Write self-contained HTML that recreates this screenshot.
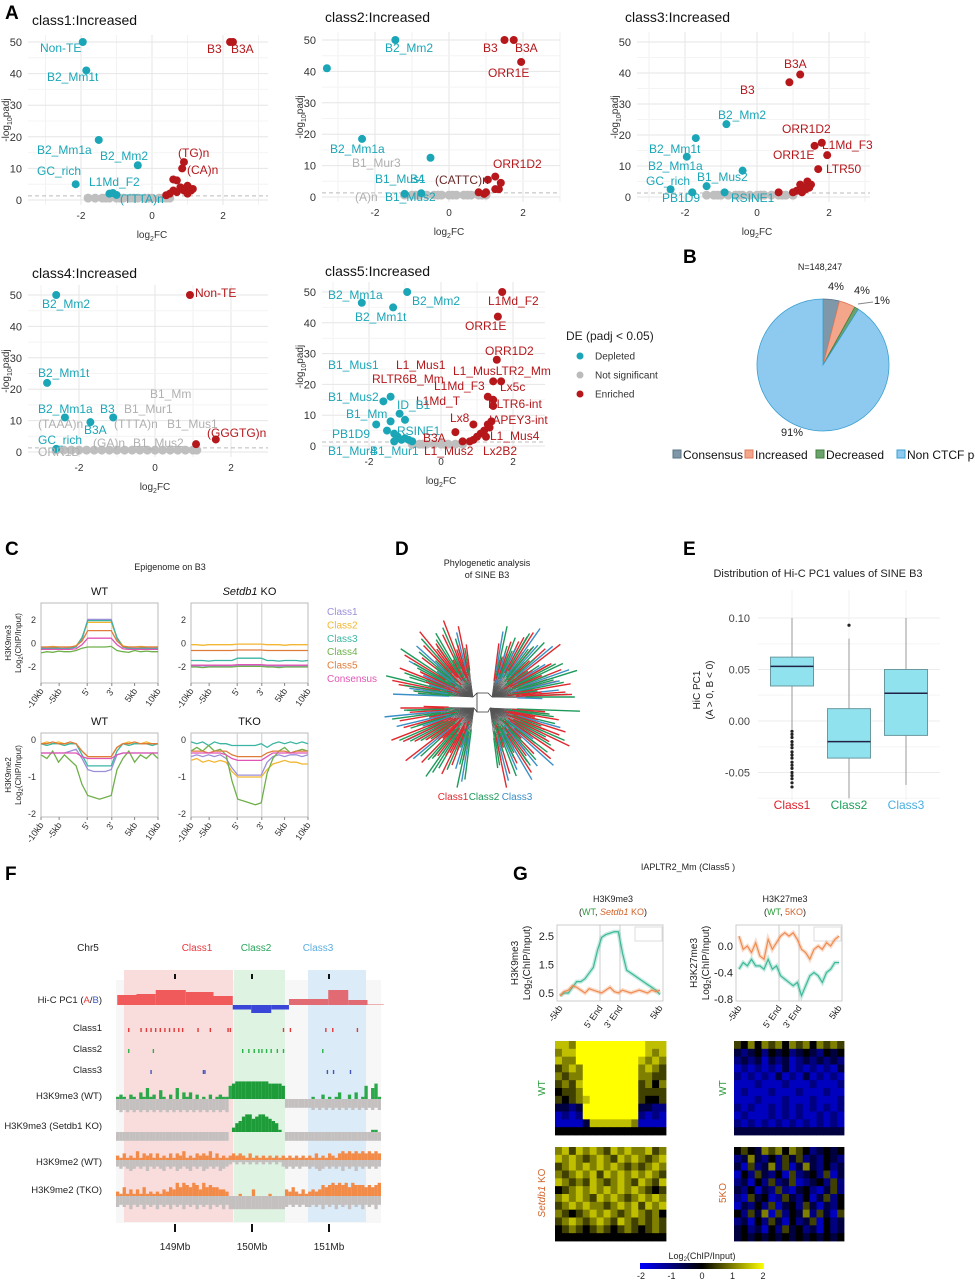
<!DOCTYPE html>
<html><head><meta charset="utf-8">
<style>
html,body{margin:0;padding:0;background:#fff;}
svg{display:block;font-family:"Liberation Sans",sans-serif;}
</style></head>
<body>
<svg id="fig" width="975" height="1280" viewBox="0 0 975 1280" xmlns="http://www.w3.org/2000/svg"></svg>
<script>
// ===== DATA =====
const v1Pts=[[-1.95,50,'d'],[-1.85,41,'d'],[-1.5,19,'d'],[-0.4,11,'d'],[-2.15,5,'d'],[-1.2,2,'d'],[-1.1,2.2,'d'],[-1.0,1.6,'d'],[2.2,50,'e'],[2.28,50,'e'],[0.9,12,'e'],[0.85,10,'e'],[0.6,6.5,'e'],[0.7,6.2,'e'],[0.8,4,'e'],[0.9,3,'e'],[1.0,4.5,'e'],[1.1,3,'e'],[0.6,3,'e'],[0.5,2,'e'],[0.4,1.5,'e'],[0.7,2.5,'e'],[1.0,2,'e'],[1.15,3.5,'e']];
const v1Gray=[-1.8,-1.6,-1.4,-1.2,-1.0,-0.8,-0.6,-0.4,-0.2,0,0.2,0.4,0.5,-1.3,-0.9,-0.5,-0.1,0.3];
const v2Pts=[[-1.45,50,'d'],[-3.3,41,'d'],[-2.35,18.5,'d'],[-0.5,12.5,'d'],[-1.2,1,'d'],[-0.75,1.2,'d'],[1.5,50,'e'],[1.75,50,'e'],[1.95,43,'e'],[1.25,6.5,'e'],[1.05,5.5,'e'],[1.4,4.5,'e'],[1.25,2.5,'e'],[1.35,2.5,'e'],[0.8,1.5,'e'],[0.95,1,'e'],[1.0,1.5,'e']];
const v2Gray=[-1.2,-1.0,-0.8,-0.6,-0.4,-0.2,0,0.2,0.4,0.6,0.8,1.0,-0.9,-0.3,0.1,0.5,0.9];
const v3Pts=[[1.2,39.5,'e'],[0.9,37,'e'],[-0.85,23.5,'d'],[-1.7,19,'d'],[-1.95,13,'d'],[1.8,17.5,'e'],[1.6,16.5,'e'],[1.95,13.5,'e'],[1.7,9,'e'],[-0.4,8.5,'d'],[-1.4,3.5,'d'],[-2.4,2.5,'d'],[-1.8,1.5,'d'],[-0.9,1.5,'d'],[1.2,4,'e'],[1.3,3,'e'],[1.4,5,'e'],[1.5,4,'e'],[1.1,2,'e'],[1.25,1.5,'e'],[1.35,2.5,'e'],[1.0,1.5,'e'],[0.6,1.5,'e'],[1.45,3,'e']];
const v3Gray=[-1.4,-1.2,-1.0,-0.8,-0.6,-0.4,-0.2,0,0.2,0.4,0.6,0.8,1.0,-1.1,-0.5,0.1,0.7];
const v4Pts=[[-2.6,50,'d'],[-2.84,22,'d'],[-2.37,11,'d'],[-1.7,9.5,'d'],[-1.1,11,'d'],[-2.6,1,'d'],[0.92,50,'e'],[1.08,2.5,'e'],[1.6,4,'e']];
const v4Gray=[-2.6,-2.4,-2.2,-2.0,-1.8,-1.6,-1.4,-1.2,-1.0,-0.8,-0.6,-0.4,-0.2,0,0.2,0.4,0.6,0.8,1.0,1.1];
const v5Pts=[[-0.94,50,'d'],[-2.2,46.5,'d'],[-1.33,45,'d'],[-1.4,16,'d'],[-1.6,14.5,'d'],[-1.15,10.5,'d'],[-1.0,8.5,'d'],[-1.8,7,'d'],[-1.4,8,'d'],[-1.3,4,'d'],[-1.2,3,'d'],[-1.1,2,'d'],[-1.0,2.5,'d'],[-0.9,2,'d'],[-1.3,1.5,'d'],[-0.8,1.5,'d'],[-1.5,5,'d'],
[1.7,50,'e'],[1.58,42,'e'],[1.55,28,'e'],[1.45,21,'e'],[1.67,21,'e'],[1.3,16,'e'],[1.45,15,'e'],[1.45,13,'e'],[1.4,8,'e'],[0.9,7,'e'],[0.4,4.5,'e'],[1.3,7,'e'],[1.2,5,'e'],[1.1,4,'e'],[1.0,3,'e'],[0.9,2,'e'],[0.8,1.5,'e'],[1.35,6,'e'],[1.25,3,'e'],[0.6,1.5,'e']];
const v5Gray=[-0.8,-0.6,-0.4,-0.2,0,0.2,0.4,0.6,-0.5,0.1];
const pieLabels=['Consensus','Increased','Decreased','Non CTCF peak'];
const pieValues=[4,4,1,91];
const cClasses=['Class1','Class2','Class3','Class4','Class5','Consensus'];
const k9WT=[
[-0.4,-0.4,-0.4,-0.45,-0.4,-0.35,-0.2,0.3,2.05,2.05,2.05,2.05,2.05,0.4,-0.3,-0.4,-0.4,-0.45,-0.4,-0.4,-0.4],
[-0.3,-0.3,-0.25,-0.3,-0.3,-0.3,-0.2,0.5,1.8,1.8,1.8,1.8,1.8,0.5,-0.2,-0.3,-0.3,-0.25,-0.3,-0.3,-0.3],
[-0.4,-0.45,-0.4,-0.4,-0.45,-0.4,-0.3,0.5,1.95,1.95,1.95,1.95,1.95,0.5,-0.3,-0.4,-0.45,-0.4,-0.4,-0.45,-0.4],
[-0.8,-0.7,-0.75,-0.65,-0.7,-0.7,-0.6,-0.4,-0.3,-0.3,-0.3,-0.3,-0.25,-0.6,-0.7,-0.75,-0.6,-0.7,-0.65,-0.7,-0.7],
[-0.3,-0.3,-0.3,-0.3,-0.3,-0.3,-0.2,0.2,1.1,1.1,1.1,1.1,1.1,0.2,-0.25,-0.3,-0.3,-0.3,-0.3,-0.3,-0.3],
[-0.5,-0.5,-0.5,-0.5,-0.5,-0.5,-0.45,-0.1,0.45,0.45,0.45,0.45,0.45,-0.1,-0.45,-0.5,-0.5,-0.5,-0.5,-0.5,-0.5]];
const k9KO=[
[-1.9,-1.9,-1.9,-1.95,-1.9,-1.9,-1.9,-1.9,-1.85,-1.85,-1.85,-1.85,-1.85,-1.9,-1.9,-1.95,-1.9,-1.9,-1.9,-1.9,-1.9],
[-0.1,-0.1,-0.15,-0.1,-0.1,-0.1,-0.1,-0.1,-0.05,-0.05,-0.05,-0.05,-0.05,-0.1,-0.1,-0.1,-0.15,-0.1,-0.1,-0.1,-0.1],
[-1.45,-1.45,-1.45,-1.5,-1.45,-1.45,-1.45,-1.45,-1.25,-1.25,-1.25,-1.25,-1.25,-1.45,-1.45,-1.5,-1.45,-1.45,-1.45,-1.5,-1.45],
[-2.0,-2.0,-2.05,-2.0,-2.0,-2.0,-2.0,-2.0,-1.95,-1.95,-1.95,-1.95,-1.95,-2.0,-2.0,-2.05,-2.0,-2.0,-2.0,-2.0,-2.0],
[-0.6,-0.6,-0.6,-0.6,-0.6,-0.6,-0.6,-0.6,-0.55,-0.55,-0.55,-0.55,-0.55,-0.6,-0.6,-0.6,-0.6,-0.6,-0.6,-0.6,-0.6],
[-1.85,-1.85,-1.85,-1.85,-1.85,-1.85,-1.85,-1.85,-1.8,-1.8,-1.8,-1.8,-1.8,-1.85,-1.85,-1.85,-1.85,-1.85,-1.85,-1.85,-1.85]];
const k9me2WT=[
[-0.35,-0.35,-0.35,-0.35,-0.35,-0.3,-0.25,-0.5,-0.8,-0.85,-0.85,-0.85,-0.8,-0.4,-0.35,-0.35,-0.35,-0.35,-0.35,-0.35,-0.35],
[-0.1,-0.05,-0.1,-0.05,-0.1,-0.1,-0.1,-0.3,-0.45,-0.45,-0.45,-0.45,-0.45,-0.2,-0.1,-0.05,-0.1,-0.1,-0.05,-0.1,-0.1],
[-0.1,-0.15,-0.1,-0.1,-0.15,-0.1,-0.1,-0.4,-0.7,-0.7,-0.7,-0.7,-0.7,-0.3,-0.1,-0.15,-0.1,-0.1,-0.1,-0.15,-0.1],
[-0.4,-0.5,-0.3,-0.6,-0.4,-0.55,-0.7,-1.2,-1.5,-1.55,-1.6,-1.55,-1.5,-0.8,-0.5,-0.3,-0.6,-0.4,-0.5,-0.35,-0.5],
[-0.1,-0.1,-0.05,-0.1,-0.1,-0.05,-0.1,-0.3,-0.45,-0.45,-0.45,-0.45,-0.45,-0.2,-0.1,-0.1,-0.05,-0.1,-0.1,-0.1,-0.1],
[-0.35,-0.35,-0.35,-0.35,-0.35,-0.35,-0.35,-0.45,-0.5,-0.5,-0.5,-0.5,-0.5,-0.4,-0.35,-0.35,-0.35,-0.35,-0.35,-0.35,-0.35]];
const k9me2TKO=[
[-0.45,-0.4,-0.45,-0.4,-0.45,-0.4,-0.5,-0.75,-0.95,-0.95,-0.95,-0.95,-0.95,-0.6,-0.45,-0.4,-0.45,-0.4,-0.4,-0.45,-0.4],
[-0.55,-0.5,-0.6,-0.55,-0.6,-0.55,-0.6,-0.85,-1.0,-1.0,-1.0,-1.0,-1.0,-0.8,-0.65,-0.6,-0.55,-0.6,-0.6,-0.65,-0.65],
[-0.05,-0.1,-0.05,-0.15,-0.05,-0.1,-0.1,-0.15,-0.15,-0.15,-0.15,-0.15,-0.1,-0.2,-0.1,-0.05,-0.1,-0.05,-0.1,-0.05,-0.1],
[-0.3,-0.2,-0.3,-0.15,-0.3,-0.25,-0.4,-1.1,-1.6,-1.65,-1.7,-1.75,-1.7,-0.9,-0.5,-0.3,-0.2,-0.35,-0.3,-0.25,-0.3],
[-0.3,-0.3,-0.3,-0.35,-0.3,-0.3,-0.3,-0.4,-0.45,-0.45,-0.45,-0.45,-0.45,-0.35,-0.3,-0.3,-0.3,-0.35,-0.3,-0.3,-0.3],
[-0.35,-0.35,-0.35,-0.35,-0.35,-0.35,-0.4,-0.5,-0.55,-0.55,-0.55,-0.55,-0.55,-0.45,-0.35,-0.35,-0.35,-0.35,-0.35,-0.35,-0.35]];
const cXTicks=['-10kb','-5kb',"5'","3'",'5kb','10kb'];
const treeClass='RGBRGRRBGGRGBRRGGRBRGGRRBGRGBRGRRGBGRGGRBRRGBGRRGBRGGRBGRRGBRRGRGBGRRGGBRRGRBGRGRRGB';
const treeLen='796857689786957869785896758697869587968597868975869785967896859786795867958697859686';
const boxCats=['Class1','Class2','Class3'];
const boxQ1=[0.034,-0.036,-0.014];
const boxMed=[0.053,-0.02,0.027];
const boxQ3=[0.062,0.012,0.05];
const boxLo=[-0.008,-0.075,-0.062];
const boxHi=[0.10,0.08,0.10];
const boxOut1=[-0.01,-0.013,-0.016,-0.02,-0.023,-0.026,-0.03,-0.033,-0.036,-0.04,-0.043,-0.046,-0.05,-0.053,-0.056,-0.06,-0.064];
const boxOut2=[0.093];
const hicStart=[148.25,148.5,148.75,149.14,149.5,149.75,149.99,150.25,150.48,150.99,151.25,151.5];
const hicEnd=[148.5,148.75,149.14,149.5,149.75,149.99,150.25,150.48,150.99,151.25,151.5,151.71];
const hicVal=[10,11,15,13,9,-4.5,-8,-4.5,6,15,5,0.5];
const class1Pos=[148.39,148.55,148.62,148.68,148.74,148.8,148.86,148.92,148.98,149.04,149.09,149.29,149.45,149.68,149.71,150.4,150.49,150.95,151.04,151.36];
const class2Pos=[148.39,148.71,149.87,149.95,150.02,150.08,150.12,150.18,150.24,150.32,150.4,150.91];
const class3Pos=[148.68,149.36,149.38,150.97,151.05,151.27];
const k9wtPos='1210210315120410205031302010201211678888888888777760000000010020101300203016057100';
const k9wtNeg='5656565656565656565656565656565656000000000000000004444444454545454545454545454545';
const k9koPos='0000000000000000000000000000000000024578867887654100000000000000000000000000011000';
const k9koNeg='4444444444444444444444444444444444000000000000000004444444444444444444444444444444';
const k2wtPos='2131214132313121313241213232413121232321312121212121212121213121321343434343434343';
const k2wtNeg='3434543435343453435434534354343543212121212121212134343433434543434353435343434343';
const k2tkoPos='2141313141212132436465465364544332000100030000100003242131232354565656465554545656';
const k2tkoNeg='5454645464546454645464546454645464666666666666666665454545545464546454645464546454';
const gK9WT=[0.4,0.5,0.5,0.7,0.9,0.9,1.0,1.2,1.4,2.0,2.45,2.55,2.6,2.65,2.65,1.9,1.3,1.2,1.1,1.0,0.9,0.8,0.7,0.6,0.45];
const gK9KO=[0.4,0.55,0.6,0.75,0.7,0.6,0.5,0.65,0.6,0.55,0.5,0.6,0.7,0.55,0.5,0.6,0.55,0.5,0.55,0.6,0.55,0.5,0.6,0.55,0.6];
const gK27WT=[-0.35,-0.25,-0.3,-0.2,-0.3,-0.3,-0.35,-0.2,-0.35,-0.3,-0.45,-0.5,-0.55,-0.6,-0.55,-0.75,-0.6,-0.45,-0.4,-0.45,-0.55,-0.4,-0.35,-0.25,-0.25];
const gK27KO=[0.15,-0.05,0.0,-0.1,0.05,-0.15,-0.2,0.1,-0.05,0.05,0.15,0.2,0.15,0.2,0.1,-0.05,-0.1,-0.2,-0.05,0.0,-0.05,0.05,0.0,0.1,0.15];
const heatK9WT=['7768888888888777','6778888888888767','7668888888887676','5676888888886765','6566888888886655','5657888888885646','4556888888885555','5456788888885445','3323888888883322','1212888888882121','1111377777761111','4444444444444444'];
const heatK9KO=['6757676576766756','7676567657676567','5676767676565676','6567675767676765','7656576567657657','4567676767676545','6767657676567676','5676766567675767','6545676765676564','5676567657656565','4565456545654565','4444444444444444'];
const heatK27WT=['5464656465646565','3234243423432434','2323132312323232','1212121312121213','2121213121312121','1112111211121112','1211121112111211','1112111211121112','2121121212121212','1211121212112121','2121212121212121','3333333333333333'];
const heatK27KO=['4543656465423434','2363242535232432','3152362513632423','1425324152342513','2314252351234252','3241325213421352','2153412532413524','1324251342531324','4253615243625315','2314253142351423','3423142534231423','3434343434343434'];

// ===== HELPERS =====
const S='http://www.w3.org/2000/svg';
const fig=document.getElementById('fig');
function mk(tag,attrs,parent){const el=document.createElementNS(S,tag);for(const k in attrs)el.setAttribute(k,attrs[k]);(parent||fig).appendChild(el);return el;}
function tx(x,y,t,size,color,anchor,extra){const el=mk('text',Object.assign({x:x,y:y,'font-size':size,fill:color||'#222','text-anchor':anchor||'start'},extra||{}));el.textContent=t;return el;}
const TEAL='#1aa6b7',RED='#b5171b',GRAY='#bfbfbf';

[['A',5,19],['B',683,263],['C',5,555],['D',395,555],['E',683,555],['F',5,880],['G',513,880]].forEach(p=>{
const el=tx(p[1],p[2],p[0],19,'#000','start',{'font-weight':'bold'});


});

// ===== VOLCANO =====
function volcano(cfg){
const g=mk('g',{});


const sx=v=>cfg.x0+v*cfg.ux, sy=v=>cfg.y0-v*(cfg.y0-cfg.y50)/50;
for(let v=-3;v<=3;v+=1){const x=sx(v);if(x<cfg.l||x>cfg.r)continue;const ln=mk('line',{x1:x,x2:x,y1:cfg.t,y2:cfg.b,stroke:v%2===0?'#e6e6e6':'#f2f2f2'},g);}
for(let v=0;v<=50;v+=5){const y=sy(v);const ln=mk('line',{x1:cfg.l,x2:cfg.r,y1:y,y2:y,stroke:v%10===0?'#e6e6e6':'#f4f4f4'},g);}
const dl=mk('line',{x1:cfg.l,x2:cfg.r,y1:sy(1.3),y2:sy(1.3),stroke:'#bbb','stroke-dasharray':'4,3'},g);

cfg.gray.forEach(v=>{const c=mk('circle',{cx:sx(v),cy:sy(0.6),r:4.5,fill:GRAY},g);});
cfg.pts.forEach(p=>{const c=mk('circle',{cx:sx(p[0]),cy:sy(p[1]),r:4,fill:p[2]==='d'?TEAL:RED},g);});
[0,10,20,30,40,50].forEach(v=>{const t=tx(cfg.l-6,sy(v)+4,String(v),11,'#333','end');});
[-2,0,2].forEach(v=>{const t=tx(sx(v),cfg.b+14,String(v),10,'#333','middle');});
const xl=tx(sx(0),cfg.b+33,'',10,'#333','middle');xl.innerHTML='log<tspan font-size="7" dy="3">2</tspan><tspan dy="-3">FC</tspan>';

const yl=tx(0,0,'',10,'#333','middle',{transform:`translate(${cfg.l-19},${(cfg.t+cfg.b)/2}) rotate(-90)`});yl.innerHTML='-log<tspan font-size="7" dy="3">10</tspan><tspan dy="-3">padj</tspan>';

const ti=tx(cfg.tx,cfg.ty,cfg.title,14,'#111');
cfg.labels.forEach(L=>{const t=tx(L[1],L[2],L[0],12,L[3]==='d'?TEAL:L[3]==='e'?RED:L[3]==='x'?'#6a2a2a':'#b0b0b0');});
}
volcano({name:'volcano-class1',x0:152,ux:35.5,y0:200,y50:42,l:28,r:268,t:35,b:205,tx:32,ty:25,title:'class1:Increased',pts:v1Pts,gray:v1Gray,
labels:[['Non-TE',40,52,'d'],['B2_Mm1t',47,81,'d'],['B2_Mm1a',37,154,'d'],['B2_Mm2',100,160,'d'],['GC_rich',37,175,'d'],['L1Md_F2',89,186,'d'],['(TTTA)n',120,203,'d'],['B3',207,53,'e'],['B3A',231,53,'e'],['(TG)n',178,157,'e'],['(CA)n',187,174,'e']]});
volcano({name:'volcano-class2',x0:449,ux:37,y0:197,y50:40,l:322,r:560,t:32,b:202,tx:325,ty:22,title:'class2:Increased',pts:v2Pts,gray:v2Gray,
labels:[['B2_Mm2',385,52,'d'],['B3',483,52,'e'],['B3A',515,52,'e'],['ORR1E',488,77,'e'],['B2_Mm1a',330,153,'d'],['B1_Mur3',352,167,'g'],['B1_Mus1',375,183,'d'],['B4',410,183,'d'],['(CATTC)n',435,184,'x'],['ORR1D2',493,168,'e'],['(A)n',355,201,'g'],['B1_Mus2',385,201,'d']]});
volcano({name:'volcano-class3',x0:757,ux:36,y0:197,y50:42,l:637,r:870,t:32,b:202,tx:625,ty:22,title:'class3:Increased',pts:v3Pts,gray:v3Gray,
labels:[['B3A',784,68,'e'],['B3',740,94,'e'],['B2_Mm2',718,119,'d'],['ORR1D2',782,133,'e'],['L1Md_F3',822,149,'e'],['B2_Mm1t',649,153,'d'],['ORR1E',773,159,'e'],['B2_Mm1a',648,170,'d'],['LTR50',826,173,'e'],['B1_Mus2',697,181,'d'],['GC_rich',646,185,'d'],['PB1D9',662,202,'d'],['RSINE1',731,202,'d']]});
volcano({name:'volcano-class4',x0:155,ux:38,y0:452,y50:295,l:28,r:268,t:285,b:457,tx:32,ty:278,title:'class4:Increased',pts:v4Pts,gray:v4Gray,
labels:[['Non-TE',195,297,'e'],['B2_Mm2',42,308,'d'],['B2_Mm1t',38,377,'d'],['B1_Mm',150,398,'g'],['B1_Mur1',124,413,'g'],['B2_Mm1a',38,413,'d'],['B3',100,413,'d'],['(TAAA)n',38,428,'g'],['(TTTA)n',114,428,'g'],['B1_Mus1',167,428,'g'],['B3A',84,434,'d'],['GC_rich',38,444,'d'],['(GA)n',93,447,'g'],['B1_Mus2',133,447,'g'],['(GGGTG)n',207,437,'e'],['ORR1D',38,456,'g']]});
volcano({name:'volcano-class5',x0:441,ux:36,y0:446,y50:292,l:322,r:545,t:282,b:451,tx:325,ty:276,title:'class5:Increased',pts:v5Pts,gray:v5Gray,
labels:[['B2_Mm1a',328,299,'d'],['B2_Mm2',412,305,'d'],['B2_Mm1t',355,321,'d'],['L1Md_F2',488,305,'e'],['ORR1E',465,330,'e'],['ORR1D2',485,355,'e'],['B1_Mus1',328,369,'d'],['L1_Mus1',396,369,'e'],['L1_MusLTR2_Mm',453,375,'e'],['RLTR6B_Mm',372,383,'e'],['L1Md_F3',434,390,'e'],['Lx5c',500,391,'e'],['B1_Mus2',328,401,'d'],['L1Md_T',416,405,'e'],['ID_B1',397,409,'d'],['RLTR6-int',488,408,'e'],['B1_Mm',346,418,'d'],['Lx8',450,422,'e'],['IAPEY3-int',489,424,'e'],['PB1D9',332,438,'d'],['RSINE1',397,435,'d'],['L1_Mus4',490,440,'e'],['B3A',423,442,'e'],['B1_Mur4',328,455,'d'],['B1_Mur1',370,455,'d'],['L1_Mus2',424,455,'e'],['Lx2B2',483,455,'e']]});
{const t=tx(566,340,'DE (padj < 0.05)',12,'#222');
[['Depleted','#1aa6b7',356],['Not significant','#bbb',375],['Enriched','#b5171b',394]].forEach(e=>{const c=mk('circle',{cx:580,cy:e[2],r:3.5,fill:e[1]});const l=tx(595,e[2]+3.5,e[0],10,'#333');});}

// ===== PIE =====
{const cx=823,cy=365,r=66;const cols=['#7e97a9','#f4a68b','#6ca36c','#8ecaef'];const strokes=['#5a7486','#e07a5a','#3f7f3f','#3aa0d0'];
const tot=pieValues.reduce((a,b)=>a+b,0);let a0=-Math.PI/2;
pieValues.forEach((v,i)=>{const a1=a0+v/tot*2*Math.PI;const large=(a1-a0)>Math.PI?1:0;
const p=mk('path',{d:`M${cx},${cy} L${cx+r*Math.cos(a0)},${cy+r*Math.sin(a0)} A${r},${r} 0 ${large} 1 ${cx+r*Math.cos(a1)},${cy+r*Math.sin(a1)} Z`,fill:cols[i],stroke:strokes[i],'stroke-width':0.8});
a0=a1;});
const n=tx(820,270,'N=148,247',9,'#222','middle');
[['4%',836,290],['4%',862,294],['1%',882,304],['91%',792,436]].forEach(l=>{const t=tx(l[1],l[2],l[0],11,'#222','middle');});
const ll=mk('line',{x1:858,y1:304,x2:873,y2:302,stroke:'#888'});
let lx=673;pieLabels.forEach((l,i)=>{const s=mk('rect',{x:lx,y:450,width:8,height:8,fill:cols[i],stroke:strokes[i]});
const t=tx(lx+10,459,l,12,'#111');lx+=10+[56,55,65,80][i]+6;});}

// ===== C profiles =====
const cCols=['#9b8fd8','#f2b632','#3bb5a3','#6fb04b','#e07c3a','#e055b3'];
const cTickIdx=[0,3.1,7.9,12.1,16,20];
function profile(cfg){const g=mk('g',{});
const sx=i=>cfg.l+i*(cfg.r-cfg.l)/20, sy=v=>cfg.yA+(v-cfg.vA)*(cfg.yB-cfg.yA)/(cfg.vB-cfg.vA);
const fr=mk('rect',{x:cfg.l,y:cfg.t,width:cfg.r-cfg.l,height:cfg.b-cfg.t,fill:'none',stroke:'#bbb'},g);
[2,3].forEach(k=>{const x=sx(cTickIdx[k]);const ln=mk('line',{x1:x,x2:x,y1:cfg.t,y2:cfg.b,stroke:'#ccc'},g);});
cfg.data.forEach((arr,ci)=>{const d=arr.map((v,i)=>(i?'L':'M')+sx(i).toFixed(1)+','+sy(v).toFixed(1)).join(' ');const p=mk('path',{d:d,fill:'none',stroke:cCols[ci],'stroke-width':1.3},g);});
cfg.yticks.forEach(v=>{const t=tx(cfg.l-5,sy(v)+3,String(v),9,'#333','end');});
cXTicks.forEach((l,k)=>{const x=sx(cTickIdx[k]);const tk=mk('line',{x1:x,x2:x,y1:cfg.b,y2:cfg.b+3,stroke:'#888'},g);
const t=tx(0,0,l,9,'#333','end',{transform:`translate(${x+3},${cfg.b+8}) rotate(-55)`});});
const ti=tx((cfg.l+cfg.r)/2,cfg.t-8,'',11,'#111','middle');ti.innerHTML=cfg.title;}
{const t=tx(170,570,'Epigenome on B3',9,'#222','middle');}
profile({name:'h3k9me3-wt-profile',l:41,r:158,t:603,b:683,yA:620,vA:2,yB:667,vB:-2,data:k9WT,yticks:[2,0,-2],title:'WT'});
profile({name:'h3k9me3-setdb1ko-profile',l:191,r:308,t:603,b:683,yA:620,vA:2,yB:667,vB:-2,data:k9KO,yticks:[2,0,-2],title:'<tspan font-style="italic">Setdb1</tspan> KO'});
profile({name:'h3k9me2-wt-profile',l:41,r:158,t:733,b:817,yA:740,vA:0,yB:814,vB:-2,data:k9me2WT,yticks:[0,-1,-2],title:'WT'});
profile({name:'h3k9me2-tko-profile',l:191,r:308,t:733,b:817,yA:740,vA:0,yB:814,vB:-2,data:k9me2TKO,yticks:[0,-1,-2],title:'TKO'});
[['H3K9me3',643],['H3K9me2',775]].forEach(l=>{const a=tx(0,0,l[0],8,'#222','middle',{transform:`translate(11,${l[1]}) rotate(-90)`});
const b=tx(0,0,'',8,'#222','middle',{transform:`translate(21,${l[1]}) rotate(-90)`});b.innerHTML='Log<tspan font-size="6" dy="2">2</tspan><tspan dy="-2">(ChIP/Input)</tspan>';});
cClasses.forEach((c,i)=>{const t=tx(327,615+i*13.4,c,10,cCols[i]);});

// ===== D tree =====
{const t1=tx(487,566,'Phylogenetic analysis',9,'#222','middle');
const t2=tx(487,578,'of SINE B3',9,'#222','middle');
const tc={R:'#e0282e',G:'#1d9a5a',B:'#3a8fc8'};const n=Math.min(treeClass.length,treeLen.length);
const hubs=[[473,697],[492,697],[474,708],[490,708]];
const tr=mk('g',{});
const hb=mk('path',{d:'M473,697 L477,693 L488,693 L492,697 M474,708 L477,712 L488,712 L490,708 M477,693 L477,712',fill:'none',stroke:'#333','stroke-width':0.8},tr);
for(let i=0;i<n;i++){const a=-Math.PI/2+(i/n)*2*Math.PI;
if(Math.abs(Math.cos(a))<0.1)continue;
const hub=hubs[(Math.cos(a)>0?1:0)+(Math.sin(a)>0?2:0)];
for(let k=0;k<3;k++){const ak=a+(k-1)*0.035;const L=(+treeLen[(i+k)%n])*10*(1-k*0.08);
const f=0.3+0.1*k;const mx=hub[0]+Math.cos(ak)*L*f,my=hub[1]+Math.sin(ak)*L*f*0.9;
const b=mk('line',{x1:hub[0],y1:hub[1],x2:mx,y2:my,stroke:'#555','stroke-width':0.5},tr);
const leaf=mk('line',{x1:mx,y1:my,x2:hub[0]+Math.cos(ak)*L,y2:hub[1]+Math.sin(ak)*L*0.9,stroke:tc[treeClass[(i*3+k)%n]],'stroke-width':1.4},tr);}}
[['Class1',453,'#e0282e'],['Class2',484,'#1d9a5a'],['Class3',517,'#3a8fc8']].forEach(c=>{const t=tx(c[1],800,c[0],10,c[2],'middle');});}

// ===== E boxplot =====
{const t=tx(818,577,'Distribution of Hi-C PC1 values of SINE B3',11,'#222','middle');
const sy=v=>721-v*1030;const cx=[792,849,906];const bw=43;
[0.10,0.075,0.05,0.025,0,-0.025,-0.05,-0.075].forEach((v,i)=>{const ln=mk('line',{x1:758,x2:940,y1:sy(v),y2:sy(v),stroke:i%2?'#f6f6f6':'#ececec'});});
cx.forEach(x=>{const ln=mk('line',{x1:x,x2:x,y1:590,y2:800,stroke:'#f0f0f0'});});
[0.10,0.05,0.00,-0.05].forEach(v=>{const l=tx(750,sy(v)+4,v.toFixed(2),11,'#444','end');});
const y1=tx(0,0,'HiC PC1',10,'#222','middle',{transform:'translate(700,690) rotate(-90)'});
const y2=tx(0,0,'(A > 0, B < 0)',10,'#222','middle',{transform:'translate(713,690) rotate(-90)'});
const labCol=['#e0202a','#1da05a','#4aaee0'];
boxCats.forEach((c,i)=>{const w=mk('line',{x1:cx[i],x2:cx[i],y1:sy(boxHi[i]),y2:sy(boxLo[i]),stroke:'#999'});
const b=mk('rect',{x:cx[i]-bw/2,y:sy(boxQ3[i]),width:bw,height:sy(boxQ1[i])-sy(boxQ3[i]),fill:'#8fe2ee',stroke:'#6a9aa0'});
const m=mk('line',{x1:cx[i]-bw/2,x2:cx[i]+bw/2,y1:sy(boxMed[i]),y2:sy(boxMed[i]),stroke:'#224','stroke-width':1.5});
const t=tx(cx[i],809,c,12,labCol[i],'middle');});
boxOut1.forEach(v=>{const o=mk('circle',{cx:cx[0],cy:sy(v),r:1.6,fill:'#222'});});
boxOut2.forEach(v=>{const o=mk('circle',{cx:cx[1],cy:sy(v),r:1.6,fill:'#222'});});}

// ===== F genome browser =====
{const mb=v=>175+(v-149)*77;
const bg=mk('rect',{x:116,y:980,width:265,height:243,fill:'#f7f7f7'});
[[124,233,'#f9dcdc'],[234,285,'#dff3e2'],[308,366,'#dcebf8']].forEach((r,i)=>{const e=mk('rect',{x:r[0],y:970,width:r[1]-r[0],height:252,fill:r[2]});});
[['Chr5',88,'#222'],['Class1',197,'#e8383d'],['Class2',256,'#26a65b'],['Class3',318,'#5aaee0']].forEach(l=>{const t=tx(l[1],951,l[0],10,l[2],'middle');});
[149,150,151].forEach(v=>{const k=mk('rect',{x:mb(v)-1,y:974,width:2,height:5,fill:'#111'});
const k2=mk('rect',{x:mb(v)-1,y:1224,width:2,height:8,fill:'#111'});
const t=tx(mb(v),1250,v+'Mb',10,'#222','middle');});
const lab=[['Hi-C PC1 (<tspan fill="#e8383d">A</tspan>/<tspan fill="#3a55c8">B</tspan>)',1003],['Class1',1031],['Class2',1052],['Class3',1073],['H3K9me3 (WT)',1099],['H3K9me3 (Setdb1 KO)',1129],['H3K9me2 (WT)',1165],['H3K9me2  (TKO)',1193]];
lab.forEach(l=>{const t=tx(102,l[1],'',9.5,'#222','end');t.innerHTML=l[0];});
const base=1005;
hicStart.forEach((s,i)=>{const v=hicVal[i];const x=mb(s),w=mb(hicEnd[i])-x;const r=mk('rect',{x:x,y:v>0?base-v:base,width:w,height:Math.abs(v),fill:v>0?(s>150.4?'#e26a72':'#f05a5a'):'#3a46d8'});});
[[class1Pos,1028,'#e03a3a'],[class2Pos,1049,'#2ab24a'],[class3Pos,1070,'#4455c0']].forEach((c,ci)=>{c[0].forEach(p=>{const r=mk('rect',{x:mb(p),y:c[1],width:1.4,height:4,fill:c[2]});});});
const bw=265/80;
function track(pos,neg,y,pc,pcGreen,name){for(let i=0;i<80;i++){const x=116+i*bw;const region=(i>=35&&i<51)?1:0;const hp=+pos[i]*2.2,hn=+neg[i]*2.2;
if(hp>0){const r=mk('rect',{x:x,y:y-hp,width:bw,height:hp,fill:pcGreen&&region?'#1e9c3a':pc});}
if(hn>0){const r=mk('rect',{x:x,y:y,width:bw,height:hn,fill:'#c4c0c0'});}}}
track(k9wtPos,k9wtNeg,1099,'#2aa84a',true,'h3k9me3-wt');
track(k9koPos,k9koNeg,1132,'#2aa84a',true,'h3k9me3-setdb1ko');
track(k2wtPos,k2wtNeg,1160,'#f28a48',false,'h3k9me2-wt');
track(k2tkoPos,k2tkoNeg,1196,'#f28a48',false,'h3k9me2-tko');}

// ===== G =====
{const t=tx(688,870,'IAPLTR2_Mm (Class5 )',9,'#222','middle');
[['H3K9me3',613,'(<tspan fill="#2a9a3a">WT</tspan>, <tspan fill="#d2622a" font-style="italic">Setdb1</tspan><tspan fill="#d2622a"> KO</tspan>)'],['H3K27me3',785,'(<tspan fill="#2a9a3a">WT</tspan>, <tspan fill="#d2622a">5KO</tspan>)']].forEach(s=>{
const a=tx(s[1],902,s[0],9,'#222','middle');
const b=tx(s[1],915,'',9,'#222','middle');b.innerHTML=s[2];});
function gprof(cfg){const sx=i=>cfg.l+i*(cfg.r-cfg.l)/24, sy=v=>cfg.yA+(v-cfg.vA)*(cfg.yB-cfg.yA)/(cfg.vB-cfg.vA);
const fr=mk('rect',{x:cfg.l-3,y:925,width:cfg.r-cfg.l+6,height:76,fill:'none',stroke:'#ccc'});
[cfg.l+(cfg.r-cfg.l)*0.4,cfg.l+(cfg.r-cfg.l)*0.6].forEach(x=>{const ln=mk('line',{x1:x,x2:x,y1:925,y2:1001,stroke:'#ccc'});});
const lg=mk('rect',{x:cfg.r-25,y:927,width:27,height:14,fill:'#fff',stroke:'#ddd'});
[[cfg.a,'#3cb898',cfg.n1],[cfg.b,'#f08a50',cfg.n2]].forEach(s=>{const band=mk('path',{d:s[0].map((v,i)=>(i?'L':'M')+sx(i)+','+sy(v)).join(' '),fill:'none',stroke:s[1],'stroke-opacity':0.3,'stroke-width':4});
const p=mk('path',{d:s[0].map((v,i)=>(i?'L':'M')+sx(i)+','+sy(v)).join(' '),fill:'none',stroke:s[1],'stroke-width':1.2});});
cfg.ticks.forEach(v=>{const l=tx(cfg.l-6,sy(v)+4,cfg.fmt(v),11,'#222','end');});
[['-5kb',0],['5\u2019 End',0.4],['3\u2019 End',0.6],['5kb',1]].forEach(k=>{const x=cfg.l+(cfg.r-cfg.l)*k[1];const l=tx(0,0,k[0],9,'#222','end',{transform:`translate(${x+3},1008) rotate(-55)`});});
const y1=tx(0,0,cfg.ylab,10,'#222','middle',{transform:`translate(${cfg.l-42},963) rotate(-90)`});
const y2=tx(0,0,'',10,'#222','middle',{transform:`translate(${cfg.l-30},963) rotate(-90)`});y2.innerHTML='Log<tspan font-size="7" dy="2">2</tspan><tspan dy="-2">(ChIP/Input)</tspan>';}
gprof({l:560,r:660,yA:936,vA:2.5,yB:993,vB:0.5,a:gK9WT,b:gK9KO,n1:'h3k9me3-wt',n2:'h3k9me3-setdb1ko',ticks:[2.5,1.5,0.5],fmt:v=>v.toFixed(1),ylab:'H3K9me3'});
gprof({l:739,r:839,yA:946,vA:0,yB:999,vB:-0.8,a:gK27WT,b:gK27KO,n1:'h3k27me3-wt',n2:'h3k27me3-5ko',ticks:[0,-0.4,-0.8],fmt:v=>v===0?'0.0':v.toFixed(1),ylab:'H3K27me3'});
function hcol(v){if(v<=0){const t=v/-2;return `rgb(0,0,${Math.round(255*t)})`;}const t=v/2;return `rgb(${Math.round(255*t)},${Math.round(255*t)},0)`;}
function heat(rows,x,y,w,h,name){const nr=rows.length,nc=rows[0].length;rows.forEach((row,ri)=>{for(let ci=0;ci<nc;ci++){const v=(+row[ci]-4)/2;const r=mk('rect',{x:x+ci*w/nc,y:y+ri*h/nr,width:w/nc+0.4,height:h/nr+0.4,fill:hcol(v)});}});}
heat(heatK9WT,555,1041,111,94,'heatmap-h3k9me3-wt');
heat(heatK9KO,555,1147,111,94,'heatmap-h3k9me3-setdb1ko');
heat(heatK27WT,734,1041,110,94,'heatmap-h3k27me3-wt');
heat(heatK27KO,734,1147,110,94,'heatmap-h3k27me3-5ko');
[['WT',545,1088,'#2a9a3a',''],['Setdb1 KO',545,1193,'#d2622a','italic'],['WT',726,1088,'#2a9a3a',''],['5KO',726,1193,'#d2622a','']].forEach(l=>{const t=tx(0,0,'',10,l[3],'middle',{transform:`translate(${l[1]},${l[2]}) rotate(-90)`});t.innerHTML=l[4]?'<tspan font-style="italic">Setdb1</tspan> KO':l[0];});
const defs=mk('defs',{});const lgd=mk('linearGradient',{id:'cb',x1:0,x2:1,y1:0,y2:0},defs);
[['0','#0000ff'],['0.5','#000'],['1','#ffff00']].forEach(s=>mk('stop',{offset:s[0],'stop-color':s[1]},lgd));
const cb=mk('rect',{x:640,y:1263,width:124,height:6,fill:'url(#cb)'});
const ct=tx(702,1259,'',9,'#222','middle');ct.innerHTML='Log<tspan font-size="6" dy="2">2</tspan><tspan dy="-2">(ChIP/Input)</tspan>';
[-2,-1,0,1,2].forEach((v,i)=>{const t=tx(641+i*30.5,1279,String(v),9,'#222','middle');});}
</script>
</body></html>
